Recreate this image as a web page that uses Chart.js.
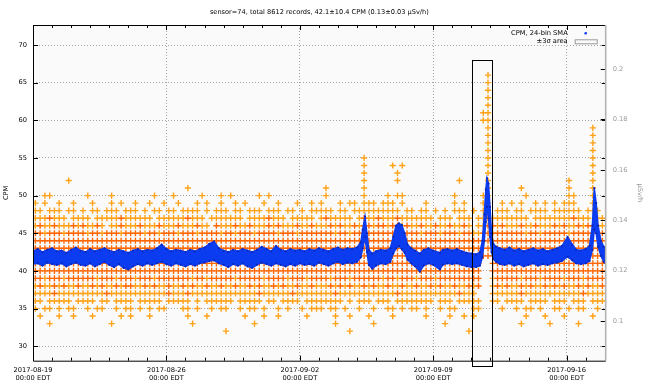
<!DOCTYPE html>
<html>
<head>
<meta charset="utf-8">
<script src="https://cdn.jsdelivr.net/npm/chart.js@4.4.0/dist/chart.umd.min.js"></script>
<style>
  html, body { margin: 0; padding: 0; background: #fff; }
  canvas { display: block; }
</style>
</head>
<body>
<canvas id="grafico" width="660" height="387"></canvas>
<script>
// textos
const titleText = 'sensor=74, total 8612 records, 42.1\u00b110.4 CPM (0.13\u00b10.03 \u00b5Sv/h)';
const weekLabels = ['2017-08-19', '2017-08-26', '2017-09-02', '2017-09-09', '2017-09-16'];
const weekSubLabel = '00:00 EDT';

// eixo x em dias desde 2017-08-19 00:00 EDT
const spanDays = [0, 30.05];
const binDays = 0.25;

// registros CPM: uma linha por nivel, cada caractere = 6 horas ('.' vazio, '+' claro, '#' denso)
const cpmLevels = [66, 65, 64, 63, 62, 61, 60, 59, 58, 57, 56, 55, 54, 53, 52, 51, 50, 49, 48, 47,
                   46, 45, 44, 43, 42, 41, 40, 39, 38, 37, 36, 35, 34, 33, 32];
const cpmMasks = [
  '.......... .......... .......... .......... .......... .......... .......... .......... .......... .....+.... .......... ..........',
  '.......... .......... .......... .......... .......... .......... .......... .......... .......... .....+.... .......... ..........',
  '.......... .......... .......... .......... .......... .......... .......... .......... .......... .....+.... .......... ..........',
  '.......... .......... .......... .......... .......... .......... .......... .......... .......... .....+.... .......... ..........',
  '.......... .......... .......... .......... .......... .......... .......... .......... .......... .....+.... .......... ..........',
  '.......... .......... .......... .......... .......... .......... .......... .......... .......... ....++.... .......... ..........',
  '.......... .......... .......... .......... .......... .......... .......... .......... .......... ....++.... .......... ..........',
  '.......... .......... .......... .......... .......... .......... .......... .......... .......... .....+.... .......... .......+..',
  '.......... .......... .......... .......... .......... .......... .......... .......... .......... .....+.... .......... .......+..',
  '.......... .......... .......... .......... .......... .......... .......... .......... .......... .....+.... .......... .......+..',
  '.......... .......... .......... .......... .......... .......... .......... .......... .......... .....+.... .......... .......+..',
  '.......... .......... .......... .......... .......... .......... .........+ .......... .......... .....+.... .......... .......+..',
  '.......... .......... .......... .......... .......... .......... .........+ .....+.+.. .......... .....+.... .......... .......+..',
  '.......... .......... .......... .......... .......... .......... .........+ ......+... .......... .....+.... .......... .......+..',
  '.......+.. .......... .......... .......... .......... .......... .........+ ......+... .........+ .....+.... .......... ..+....+..',
  '.......... .......... .......... ..+....... .......... .......... .+.......+ .......... .......... .....+.... ..+....... ..+....+..',
  '..++...... .+....+... .....+...+ .....+...+ .+.....+.+ .......... .+.......+ ....+.++.. ........+. ....++.... ...+...... ..++...+..',
  '+.+..+..+. ..+...+.+. .+..+..+.. +...+.+..+ ..+.+...+. .+...+..+. +...+.++.+ ++.+++.+.. ..+.....+. +...++..+. +.+..+.+.+ .+++...+..',
  '++.+++.++. +.++.+++.+ ++.+.++.++ .++++.+.++ +.++.+++.+ ++.++.+.++ +++.++.+++ +++++++.++ .++.+.+.++ +.+.++.+++ .++.++++.+ +++++.+++.',
  '+++#+++.++ ++.+++++#+ +++++.++++ ++#+++.+++ ++++.++++# +++.+++++. +#+++++.+# ++#+++#+++ ++++.+++.+ ++.++#++++ ++++.+++++ +++#+++.++',
  '+#++#+++#+ #++#+.++#+ ++#+++#+++ #+++#++.#+ ++#++#+++# +#+++#++#+ ++#+#++#+# #+##+##+#+ +#++#++#++ #+.++##+#+ ++#++#+++# +#++#+##++',
  '##+###+### #+##+###+# ###+##+### +###+####+ ##+###+### #+###+#### ###+##+### ########## #+###+###+ ##++###### ###+##+### ##+#####+#',
  '########## ########## ########## ########## ########## ########## ########## ########## ########## ########## ########## ##########',
  '########## ########## ########## ########## ########## ########## ########## ########## ########## ########## ########## ##########',
  '########## ########## ########## ########## ########## ########## ########## ########## ########## ########## ########## ##########',
  '########## ########## ########## ########## ########## ########## ########## ########## ########## ####..#### ########## ##########',
  '########## ########## ########## ########## ########## ########## ########## ########## ########## ####..#### ########## ##########',
  '##+###+### ###+###+## #+###+#### ###+##+### ##+#####+# ###+###+## ##+###+### ###+##+### +###+##### ####..+### ##+###+### #+###+####',
  '+#++#+#++# ++#+#++#+# #++#+#++#+ +#+#++#++# ++#++#+#++ #+#++#++#+ ++#+#+#++# +#++#++#++ #++#+#++#+ +#+#..+#+# ++#+#++#+# +#++#+#++#',
  '++++#+++++ +++++#++++ ++++++++#+ ++#+++++++ +++++++#++ ++++#+++++ +++#++++++ ++++++#+++ +++++++++# +++...++++ ++#+++++++ +++++#++++',
  '++.+++++.+ +++.++.+++ +.+++++.++ +++.+.++++ ++.+++++.+ +.++++.+++ +++++.+.++ +.+++.++++ ++++.+++.+ ++++..++.+ +++.++++.+ ++.+++.+++',
  '+.++.+.++. .+.++..+.+ +.+.+.++.. .++.+..+.+ +..+.++.+. .+.+..+.++ +.++.+..+. .+..++.+.+ +.+..+.++. ..++....+. .+.++.+..+ +.+.++..+.',
  '.+...+..+. ..+.....+. +...+..... ..+...+... ....+...+. .+.....+.. ...+..+... +....+.... ..+....+.. +.+....... ...+...+.. .+.....+..',
  '...+...... ......+... .......... ...+...... ......+... .......... ...+...... .+........ ......+... .......... ..+.....+. ....+.....',
  '.......... .......... .......... .......... +......... .......... ......+... .......... .......... .+........ .......... ..........'
];

// media movel (24 amostras): limites superior e inferior da faixa azul
const smaDay = [0, 0.25, 0.5, 0.75, 1, 1.25, 1.5, 1.75, 2, 2.25, 2.5, 2.75, 3, 3.25, 3.5, 3.75, 4, 4.25, 4.5, 4.75,
  5, 5.25, 5.5, 5.75, 6, 6.25, 6.5, 6.75, 7, 7.25, 7.5, 7.75, 8, 8.25, 8.5, 8.75, 9, 9.25, 9.5, 9.75,
  10, 10.25, 10.5, 10.75, 11, 11.25, 11.5, 11.75, 12, 12.25, 12.5, 12.75, 13, 13.25, 13.5, 13.75,
  14, 14.25, 14.5, 14.75, 15, 15.25, 15.5, 15.75, 16, 16.25, 16.5, 16.75, 17, 17.2, 17.3, 17.42, 17.52, 17.62, 17.8,
  18, 18.25, 18.5, 18.75, 18.9, 19.05, 19.2, 19.35, 19.5, 19.65, 19.85, 20.05, 20.3, 20.5, 20.75, 21, 21.35, 21.5, 21.75,
  22, 22.25, 22.5, 22.75, 23, 23.25, 23.45, 23.58, 23.68, 23.76, 23.82, 23.9, 23.98, 24.06, 24.15, 24.3, 24.5, 24.75,
  25, 25.25, 25.5, 25.75, 26, 26.25, 26.5, 26.75, 27, 27.25, 27.5, 27.75, 28.05, 28.3, 28.5, 28.75,
  29, 29.2, 29.35, 29.45, 29.55, 29.65, 29.8, 29.95, 30.05];
const smaHi = [42.6, 42.9, 42.5, 42.8, 43.0, 42.6, 42.7, 42.4, 42.8, 43.1, 42.7, 42.5, 42.9, 42.6, 42.8, 43.0, 42.7, 42.5, 42.8, 42.6,
  42.4, 42.7, 42.9, 42.6, 42.8, 42.7, 43.0, 43.5, 42.9, 42.6, 42.8, 42.7, 42.5, 42.8, 42.6, 42.9, 43.1, 43.6, 43.9, 43.0,
  42.7, 42.5, 42.8, 42.6, 42.9, 42.7, 42.5, 42.8, 43.2, 42.9, 42.6, 43.3, 42.8, 42.6, 42.9, 42.7,
  42.8, 42.6, 42.9, 42.7, 43.0, 42.8, 42.6, 42.9, 43.1, 42.8, 43.0, 42.9, 43.1, 43.8, 45.5, 47.2, 45.0, 42.8, 42.3,
  42.6, 42.8, 42.7, 43.0, 44.5, 46.0, 46.3, 46.1, 45.0, 43.5, 43.0, 42.7, 42.3, 42.8, 43.0, 42.7, 42.4, 42.8, 42.9,
  42.7, 42.9, 42.6, 42.4, 42.3, 42.2, 42.5, 44.0, 47.5, 50.8, 52.3, 51.6, 48.5, 45.0, 43.6, 43.2, 43.0, 42.8,
  43.1, 42.7, 42.9, 42.6, 42.8, 43.0, 42.7, 42.9, 42.6, 42.8, 43.0, 43.3, 44.5, 43.5, 42.8, 42.7,
  42.9, 43.3, 46.0, 51.0, 49.0, 46.0, 44.0, 43.2, 42.8];
const smaLo = [40.9, 41.0, 40.7, 41.1, 40.9, 40.8, 41.0, 40.6, 40.9, 41.1, 40.8, 40.7, 41.0, 40.6, 40.9, 41.2, 40.8, 40.5, 40.9, 40.4,
  40.2, 40.6, 40.9, 40.7, 41.0, 40.8, 41.0, 41.2, 40.9, 40.7, 41.0, 40.8, 40.6, 40.9, 40.7, 41.0, 41.1, 41.3, 41.4, 41.0,
  40.8, 40.5, 40.9, 40.7, 41.0, 40.6, 40.4, 40.8, 41.1, 40.9, 40.7, 41.0, 40.8, 40.6, 40.9, 40.7,
  41.0, 40.8, 40.9, 40.7, 41.1, 40.9, 40.7, 41.0, 41.2, 40.9, 41.1, 41.0, 41.2, 41.8, 43.0, 44.5, 42.5, 40.8, 40.3,
  40.7, 41.0, 40.9, 41.2, 42.3, 43.0, 43.3, 42.9, 42.4, 41.5, 41.0, 40.6, 39.9, 40.7, 41.0, 40.8, 40.2, 40.8, 41.0,
  40.9, 41.0, 40.8, 40.6, 40.5, 40.5, 40.7, 41.8, 44.0, 46.5, 48.5, 47.0, 44.5, 42.5, 41.6, 41.2, 40.9, 40.8,
  41.0, 40.7, 40.9, 40.6, 40.8, 41.0, 40.7, 40.9, 40.8, 41.0, 41.1, 41.3, 41.9, 41.4, 41.0, 40.9,
  41.0, 41.3, 42.8, 45.5, 45.0, 43.2, 42.0, 41.2, 41.0];

// media e desvio do titulo (faixa de 3 sigma)
const cpmMean = 42.1;
const cpmSigma = 10.4;

// faixas dos eixos
const cpmRange = [28.07, 72.66];
const doseRange = [0.0842, 0.2175];

// retangulo que marca o pico de 11/09
const highlightBox = { fromDay: 23.03, toDay: 24.06, lowCpm: 27.3, highCpm: 68.0 };

const corAzul = '#0b3cf0';
const corAzulEscuro = '#0a26b8';
const corLaranja = 'rgb(255,162,24)';
const corLaranjaForte = 'rgb(255,102,0)';
const corArea = 'rgba(0,0,0,0.018)';

// monta os pontos a partir das mascaras
const pontosClaros = [];
const pontosFortes = [];
cpmLevels.forEach((nivel, r) => {
  const mask = cpmMasks[r].replace(/ /g, '');
  for (let b = 0; b < mask.length; b++) {
    const c = mask[b];
    if (c === '.') continue;
    const p = { x: (b + 0.5) * binDays, y: nivel };
    if (c === '#') pontosFortes.push(p); else pontosClaros.push(p);
  }
});

const smaAlto = smaDay.map((d, i) => ({ x: d, y: smaHi[i] }));
const smaBaixo = smaDay.map((d, i) => ({ x: d, y: smaLo[i] }));
const areaAlta = spanDays.map(d => ({ x: d, y: cpmMean + 3 * cpmSigma }));
const areaBaixa = spanDays.map(d => ({ x: d, y: cpmMean - 3 * cpmSigma }));

Chart.defaults.font.family = 'DejaVu Sans';
Chart.defaults.font.size = 6.7;
Chart.defaults.color = '#000';

// moldura, marcas internas, legenda, titulo e retangulo
const molduraPlugin = {
  id: 'moldura',
  beforeDraw(chart) {
    const ctx = chart.ctx;
    ctx.save();
    ctx.fillStyle = '#fff';
    ctx.fillRect(0, 0, chart.width, chart.height);
    ctx.restore();
  },
  afterDraw(chart) {
    const ctx = chart.ctx;
    const a = chart.chartArea;
    const sx = chart.scales.x, sy = chart.scales.y, sy2 = chart.scales.y2;
    ctx.save();

    // marcas dos eixos (para dentro)
    ctx.strokeStyle = '#000';
    ctx.lineWidth = 1;
    ctx.beginPath();
    for (let d = 0; d <= 30; d++) {
      const px = Math.round(sx.getPixelForValue(d)) + 0.5;
      const len = d % 7 === 0 ? 5 : 3;
      ctx.moveTo(px, a.bottom); ctx.lineTo(px, a.bottom - len);
      ctx.moveTo(px, a.top); ctx.lineTo(px, a.top + len);
    }
    sy.ticks.forEach(t => {
      const py = Math.round(sy.getPixelForValue(t.value)) + 0.5;
      ctx.moveTo(a.left, py); ctx.lineTo(a.left + 5, py);
      ctx.moveTo(a.right, py); ctx.lineTo(a.right - 4, py);
    });
    sy2.ticks.forEach(t => {
      const py = Math.round(sy2.getPixelForValue(t.value)) + 0.5;
      ctx.moveTo(a.right, py); ctx.lineTo(a.right - 5, py);
    });
    ctx.stroke();

    // bordas
    ctx.beginPath();
    ctx.moveTo(a.right, a.top + 0.5); ctx.lineTo(a.left + 0.5, a.top + 0.5);
    ctx.lineTo(a.left + 0.5, a.bottom + 0.5); ctx.lineTo(a.right, a.bottom + 0.5);
    ctx.stroke();
    ctx.strokeStyle = '#b4b4b4';
    ctx.lineWidth = 1.6;
    ctx.beginPath();
    ctx.moveTo(a.right, a.top); ctx.lineTo(a.right, a.bottom);
    ctx.stroke();

    // retangulo do pico
    const bx1 = sx.getPixelForValue(highlightBox.fromDay);
    const bx2 = sx.getPixelForValue(highlightBox.toDay);
    const by1 = sy.getPixelForValue(highlightBox.highCpm);
    const by2 = sy.getPixelForValue(highlightBox.lowCpm);
    ctx.strokeStyle = '#000';
    ctx.lineWidth = 1;
    ctx.strokeRect(Math.round(bx1) + 0.5, Math.round(by1) + 0.5, Math.round(bx2 - bx1), Math.round(by2 - by1));

    // legenda
    const ds = chart.data.datasets;
    const chave = ds.filter(d => d.chave);
    ctx.font = '6.7px "DejaVu Sans"';
    ctx.textAlign = 'right';
    ctx.textBaseline = 'middle';
    ctx.fillStyle = '#000';
    chave.forEach((d, i) => {
      const ly = a.top + 8.3 + i * 8;
      ctx.fillText(d.label, a.right - 38, ly);
      if (d.chave === 'ponto') {
        ctx.fillStyle = corAzul;
        ctx.beginPath();
        ctx.arc(a.right - 20, ly, 1.3, 0, Math.PI * 2);
        ctx.fill();
        ctx.fillStyle = '#000';
      } else {
        ctx.fillStyle = '#fafafa';
        ctx.fillRect(a.right - 31, ly - 2, 22, 4);
        ctx.strokeStyle = '#999';
        ctx.strokeRect(a.right - 30.5, ly - 1.5, 22, 4);
        ctx.fillStyle = '#000';
      }
    });

    // titulo
    ctx.font = '6.6px "DejaVu Sans"';
    ctx.textAlign = 'center';
    ctx.fillText(titleText, (a.left + a.right) / 2, 12.7);
    ctx.restore();
  }
};

new Chart(document.getElementById('grafico'), {
  type: 'line',
  data: {
    datasets: [
      {
        label: 'CPM, 24-bin SMA', chave: 'ponto', data: smaAlto,
        borderColor: corAzul, borderWidth: 1.5, tension: 0, fill: false,
        pointRadius: 1.1, pointBorderWidth: 0, pointBackgroundColor: corAzulEscuro
      },
      {
        label: 'sma-baixo', data: smaBaixo,
        borderColor: corAzul, borderWidth: 1.5, tension: 0,
        pointRadius: 1.1, pointBorderWidth: 0, pointBackgroundColor: corAzulEscuro,
        fill: '-1', backgroundColor: corAzul
      },
      {
        label: 'cpm-forte', data: pontosFortes, showLine: false,
        pointStyle: 'cross', pointRadius: 3.1, pointBorderWidth: 1.4, pointBorderColor: corLaranjaForte
      },
      {
        label: 'cpm-claro', data: pontosClaros, showLine: false,
        pointStyle: 'cross', pointRadius: 3.1, pointBorderWidth: 1.4, pointBorderColor: corLaranja
      },
      {
        label: '\u00b13\u03c3 area', chave: 'caixa', data: areaAlta,
        borderWidth: 0, borderColor: 'rgba(0,0,0,0)', pointRadius: 0, fill: false
      },
      {
        label: 'area-baixa', data: areaBaixa,
        borderWidth: 0, borderColor: 'rgba(0,0,0,0)', pointRadius: 0,
        fill: '-1', backgroundColor: corArea
      }
    ]
  },
  options: {
    responsive: false,
    animation: false,
    devicePixelRatio: 1,
    layout: { padding: { top: 25, left: 0, right: 0, bottom: 0 } },
    plugins: { legend: { display: false }, tooltip: { enabled: false }, title: { display: false } },
    scales: {
      x: {
        type: 'linear', min: spanDays[0], max: spanDays[1],
        afterFit(s) { s.height = 26.3; },
        border: { display: false, dash: [1, 2] },
        grid: {
          drawTicks: false, lineWidth: 1,
          color: c => (c.tick && c.tick.value % 7 === 0) ? '#a8a8a8' : 'rgba(0,0,0,0)'
        },
        ticks: {
          stepSize: 1, includeBounds: false, autoSkip: false, maxRotation: 0, padding: 5,
          font: { size: 6.7, lineHeight: 1.25 },
          callback: v => (v % 7 === 0 && weekLabels[v / 7]) ? [weekLabels[v / 7], weekSubLabel] : ''
        }
      },
      y: {
        type: 'linear', position: 'left', min: cpmRange[0], max: cpmRange[1],
        afterFit(s) { s.width = 33; },
        border: { display: false, dash: [1, 2] },
        grid: { drawTicks: false, color: '#a8a8a8', lineWidth: 1 },
        ticks: { stepSize: 5, includeBounds: false, padding: 6 },
        title: { display: true, text: 'CPM', padding: { top: 2, bottom: 0 }, font: { size: 6.7 } }
      },
      y2: {
        type: 'linear', position: 'right', min: doseRange[0], max: doseRange[1],
        afterFit(s) { s.width = 54.3; },
        border: { display: false },
        grid: { display: false, drawTicks: false },
        ticks: {
          stepSize: 0.02, includeBounds: false, padding: 7, color: '#999',
          callback: v => String(+v.toFixed(2))
        },
        title: { display: true, text: '\u00b5Sv/h', color: '#999', padding: { top: 16, bottom: 0 }, font: { size: 6.7 } }
      }
    }
  },
  plugins: [molduraPlugin]
});
</script>
</body>
</html>
